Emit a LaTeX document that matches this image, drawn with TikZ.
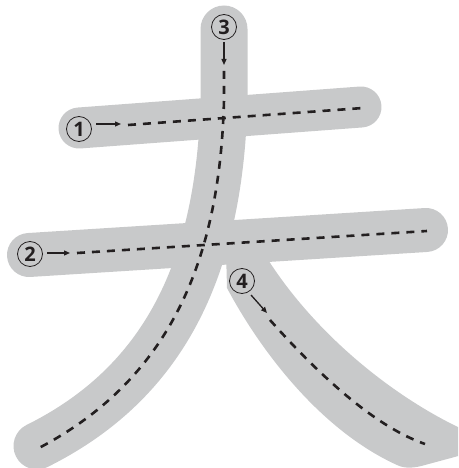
\documentclass[tikz,border=0pt]{standalone}
\usepackage{fontspec}
\setsansfont{Open Sans}
\usetikzlibrary{arrows.meta}
\definecolor{bandgray}{RGB}{200,201,202}
\definecolor{inkdark}{RGB}{35,31,32}

\begin{document}
\begin{tikzpicture}[x=1pt, y=-1pt,
  band/.style={draw=bandgray, line width=#1, line cap=round},
  guide/.style={draw=inkdark, line width=2.6pt, dash pattern=on 8pt off 7pt},
  num/.style={circle, draw=inkdark, line width=0.8pt, fill=bandgray,
    minimum size=25pt, inner sep=0pt, text=inkdark,
    font=\sffamily\bfseries\fontsize{20}{20}\selectfont},
  pointer/.style={-{Triangle[length=6pt,width=5pt]}, draw=inkdark, line width=1.3pt}]
\useasboundingbox (0,0) rectangle (458,468);
\clip (0,0) rectangle (458,468);

% gray strokes
\draw[band=41pt] (79,128) -- (361,107);
\draw[band=44pt] (29,255) -- (426,230);
\draw[band=47pt] (224,29) -- (224,100) .. controls (220,260) and (170,380) .. (37,446);
\fill[bandgray] (226,250) -- (227,288) .. controls (260,350) and (320,430) .. (397,465)
  .. controls (405,469) and (415,468) .. (425,465) -- (462,455) -- (462,429)
  .. controls (390,395) and (310,330) .. (262,250) -- cycle;

% guide lines
\coordinate (s1) at (128,125);
\coordinate (e1) at (363,108);
\coordinate (s2) at (77,253);
\coordinate (e2) at (427,231);
\coordinate (s3) at (224,71);
\coordinate (e3) at (37,449);
\coordinate (s4) at (270,320);
\coordinate (e4) at (425,444);

\draw[guide] (s1) -- (e1);
\draw[guide] (s2) -- (e2);
\draw[guide] (s3) -- (224,100) .. controls (220,260) and (170,380) .. (e3);
\draw[guide] (s4) .. controls (310,365) and (370,425) .. (e4);

% numbers and arrows
\node[num] (n1) at (79,129) {1};
\node[num] (n2) at (30,254) {2};
\node[num] (n3) at (224,27) {3};
\node[num] (n4) at (242,281) {4};

\coordinate (t1) at (96,124);
\coordinate (h1) at (121,124);
\coordinate (t2) at (47,253);
\coordinate (h2) at (70,253);
\coordinate (t3) at (224,42);
\coordinate (h3) at (224,65);
\coordinate (t4) at (251,295);
\coordinate (h4) at (267,313);

\draw[pointer] (t1) -- (h1);
\draw[pointer] (t2) -- (h2);
\draw[pointer] (t3) -- (h3);
\draw[pointer] (t4) -- (h4);
\end{tikzpicture}
\end{document}
